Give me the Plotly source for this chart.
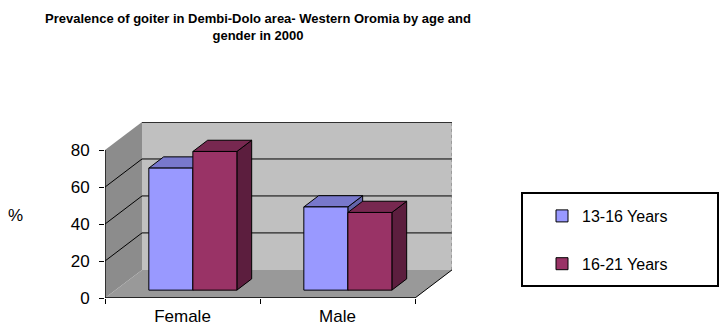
import plotly.graph_objects as go

# ---- data ----
categories = ["Female", "Male"]
series_names = ["13-16 Years", "16-21 Years"]
values_13_16 = [66, 45]
values_16_21 = [75, 42]
y_ticks = [0, 20, 40, 60, 80]

# ---- layout constants (pixels of the 720x333 canvas) ----
W, H = 720, 333
PLOT_L, PLOT_R, PLOT_T, PLOT_B = 105, 452, 122, 298

def px(x):
    return x / W

def py(y):
    return 1 - y / H

# ---- 3D styling constants (data units) ----
DX = 0.2387   # depth offset along x (category units)
DY = 15.2     # depth offset along y (value units)
F = 0.28      # depth position of bar fronts (fraction of full depth)
D = 0.40      # bar depth (fraction of full depth)
BAR_W = 0.284
YMAX = 80

front_cols = ["#9999FF", "#993366"]
top_cols = ["#7878CC", "#772850"]
side_cols = ["#6464AA", "#5C1E3E"]
series_vals = [values_13_16, values_16_21]

FONT = "Liberation Sans, Arial, sans-serif"

fig = go.Figure()

x_left, x_right = -0.5, len(categories) - 0.5

# ---- side & top faces (drawn beneath bar fronts) ----
for i, vals in enumerate(series_vals):
    for c, v in enumerate(vals):
        xc = c + F * DX + (i - 0.5) * BAR_W
        x0, x1 = xc - BAR_W / 2, xc + BAR_W / 2
        b = F * DY
        t = b + v
        ddx, ddy = D * DX, D * DY
        fig.add_trace(go.Scatter(
            x=[x1, x1, x1 + ddx, x1 + ddx, x1],
            y=[b, t, t + ddy, b + ddy, b],
            fill="toself", fillcolor=side_cols[i], mode="lines",
            line=dict(color="black", width=1), showlegend=False, hoverinfo="skip"))
        fig.add_trace(go.Scatter(
            x=[x0, x0 + ddx, x1 + ddx, x1, x0],
            y=[t, t + ddy, t + ddy, t, t],
            fill="toself", fillcolor=top_cols[i], mode="lines",
            line=dict(color="black", width=1), showlegend=False, hoverinfo="skip"))

# ---- bar front faces (overlay subplot so they are drawn on top) ----
for i, vals in enumerate(series_vals):
    xs = [c + F * DX + (i - 0.5) * BAR_W for c in range(len(categories))]
    fig.add_trace(go.Bar(
        x=xs, y=vals, base=F * DY, width=BAR_W, name=series_names[i],
        marker=dict(color=front_cols[i], line=dict(color="black", width=1)),
        xaxis="x2", yaxis="y2", legendgroup=series_names[i],
        hovertext=[f"{categories[k]}: {vals[k]}" for k in range(len(vals))],
        hoverinfo="text+name"))

# ---- walls ----
shapes = []
shapes.append(dict(type="rect", xref="x", yref="y", layer="below",
                   x0=x_left + DX, x1=x_right + DX, y0=DY, y1=YMAX + DY,
                   fillcolor="#C0C0C0", line=dict(width=0)))
shapes.append(dict(type="path", xref="x", yref="y", layer="below",
                   path=f"M{x_left},0 L{x_left},{YMAX} L{x_left+DX},{YMAX+DY} L{x_left+DX},{DY} Z",
                   fillcolor="#8C8C8C", line=dict(width=0)))
shapes.append(dict(type="path", xref="x", yref="y", layer="below",
                   path=f"M{x_left},0 L{x_right},0 L{x_right+DX},{DY} L{x_left+DX},{DY} Z",
                   fillcolor="#999999", line=dict(width=0)))
for v in y_ticks[1:]:
    shapes.append(dict(type="line", xref="x", yref="y", layer="below",
                       x0=x_left + DX, x1=x_right + DX, y0=v + DY, y1=v + DY,
                       line=dict(color="black", width=1.3 if v == YMAX else 1)))
    if v < YMAX:
        shapes.append(dict(type="line", xref="x", yref="y", layer="below",
                           x0=x_left, x1=x_left + DX, y0=v, y1=v + DY,
                           line=dict(color="black", width=1)))
shapes.append(dict(type="line", xref="x", yref="y", layer="below",
                   x0=x_right + DX, x1=x_right + DX, y0=DY, y1=YMAX + DY,
                   line=dict(color="#777777", width=1, dash="dot")))
shapes.append(dict(type="line", xref="x", yref="y", x0=x_left, x1=x_left, y0=0, y1=YMAX,
                   line=dict(color="black", width=1.3)))
shapes.append(dict(type="line", xref="x", yref="y", x0=x_left, x1=x_right, y0=0, y1=0,
                   line=dict(color="black", width=1.3)))
shapes.append(dict(type="line", xref="x", yref="y", x0=x_right, x1=x_right + DX, y0=0, y1=DY,
                   line=dict(color="black", width=1)))
# legend box
shapes.append(dict(type="rect", xref="paper", yref="paper",
                   x0=px(522), x1=px(718), y0=py(286), y1=py(193),
                   line=dict(color="black", width=2), fillcolor="rgba(0,0,0,0)"))

axis_common = dict(showgrid=False, zeroline=False, showline=False)
xdom = [px(PLOT_L), px(PLOT_R)]
ydom = [py(PLOT_B), py(PLOT_T)]

fig.update_layout(
    width=W, height=H,
    margin=dict(l=0, r=0, t=0, b=0),
    paper_bgcolor="white", plot_bgcolor="white",
    font=dict(family=FONT, color="black"),
    barmode="overlay",
    showlegend=True,
    title=dict(
        text="Prevalence of goiter in Dembi-Dolo area- Western Oromia by age and<br>gender in 2000",
        x=px(258), xanchor="center", xref="container",
        y=0.932, yanchor="top", yref="container",
        font=dict(family="Liberation Sans Narrow, Arial Narrow, Liberation Sans, sans-serif",
                  size=13, color="black", weight="bold")),
    xaxis=dict(domain=xdom, range=[x_left, x_right + DX], tickvals=list(range(len(categories))),
               ticktext=categories, ticks="", tickfont=dict(size=17),
               ticklabelstandoff=6, automargin=False,
               minor=dict(tickvals=[x_left + k for k in range(len(categories) + 1)],
                          ticks="outside", ticklen=5, tickcolor="black", tickwidth=1),
               **axis_common),
    yaxis=dict(domain=ydom, range=[0, YMAX + DY], tickvals=y_ticks, ticks="outside", ticklen=5,
               tickcolor="black", tickwidth=1.3, tickfont=dict(size=17),
               ticklabelstandoff=6, automargin=False, **axis_common),
    xaxis2=dict(domain=xdom, range=[x_left, x_right + DX], overlaying="x", visible=False,
                **axis_common),
    yaxis2=dict(domain=ydom, range=[0, YMAX + DY], overlaying="y", visible=False,
                **axis_common),
    legend=dict(x=px(542), xanchor="left", y=py(199), yanchor="top",
                font=dict(size=16), tracegroupgap=24, bgcolor="rgba(0,0,0,0)",
                borderwidth=0),
    shapes=shapes,
    annotations=[dict(text="%", xref="paper", yref="paper", x=px(15), y=py(215),
                      xanchor="center", yanchor="middle", showarrow=False,
                      font=dict(size=17))],
)

fig.write_html("out.html",
               config={"displayModeBar": False},
               post_script="document.body.style.margin='0';document.body.style.padding='0';")
